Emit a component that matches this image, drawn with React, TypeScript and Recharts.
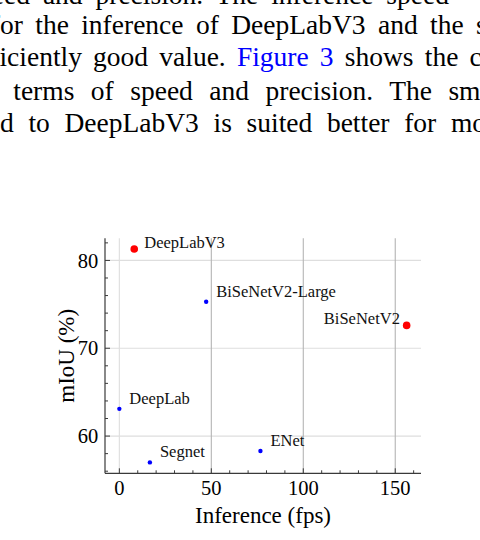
import { Label, ReferenceLine, Scatter, ScatterChart, XAxis, YAxis } from "recharts";

// models drawn in red (large markers)
const highlightNames = ["DeepLabV3", "BiSeNetV2"];
const highlightFps = [8.1, 156.2];
const highlightMiou = [81.3, 72.6];

// other models (small blue markers)
const otherNames = ["BiSeNetV2-Large", "DeepLab", "Segnet", "ENet"];
const otherFps = [47.2, 0, 16.6, 76.7];
const otherMiou = [75.3, 63.1, 57.0, 58.3];

const xMajorTicks = [0, 50, 100, 150];
const xMinorTicks = [10, 20, 30, 40, 60, 70, 80, 90, 110, 120, 130, 140, 160];
const yMajorTicks = [60, 70, 80];
const yMinorTicks = [56, 58, 62, 64, 66, 68, 72, 74, 76, 78, 82];

const xDomain = [-7.8, 164.0];
const yDomain = [55.76, 82.52];

// names whose label sits on the left of the marker
const leftLabelled = ["BiSeNetV2"];

const highlightPoints = highlightNames.map((name, i) => ({ name, x: highlightFps[i], y: highlightMiou[i] }));
const otherPoints = otherNames.map((name, i) => ({ name, x: otherFps[i], y: otherMiou[i] }));
const xAllTicks = [...xMajorTicks, ...xMinorTicks].sort((a, b) => a - b);
const yAllTicks = [...yMajorTicks, ...yMinorTicks].sort((a, b) => a - b);

const serif = "Liberation Serif";
const spine = "#3a3a3a";

// inward ticks: long for major values, short for minor ones
function XTick(props: any) {
  const { x, y, payload } = props;
  const major = xMajorTicks.includes(payload.value);
  return (
    <g>
      <line x1={x} x2={x} y1={y} y2={y - (major ? 5 : 3)} stroke={spine} />
      {major ? (
        <text x={x} y={y + 21.2} textAnchor="middle" fontFamily={serif} fontSize={20.5} fill="#000">
          {payload.value}
        </text>
      ) : null}
    </g>
  );
}

function YTick(props: any) {
  const { x, y, payload } = props;
  const major = yMajorTicks.includes(payload.value);
  return (
    <g>
      <line x1={x} x2={x + (major ? 5 : 3)} y1={y} y2={y} stroke={spine} />
      {major ? (
        <text x={x - 6.7} y={y + 7.1} textAnchor="end" fontFamily={serif} fontSize={20.5} fill="#000">
          {payload.value}
        </text>
      ) : null}
    </g>
  );
}

function makeShape(r: number, color: string, labelDy: number) {
  return (props: any) => {
    const { cx, cy, payload } = props;
    const left = leftLabelled.includes(payload.name);
    return (
      <g>
        <circle cx={cx} cy={cy} r={r} fill={color} />
        <text
          x={left ? cx - 6.7 : cx + 10}
          y={cy + labelDy}
          textAnchor={left ? "end" : "start"}
          fontFamily={serif}
          fontSize={16.5}
          fill="#111"
        >
          {payload.name}
        </text>
      </g>
    );
  };
}

function Paragraph() {
  const line = (x: number, y: number, ws: number, children: any) => (
    <text x={x} y={y} fontFamily={serif} fontSize={27.5} fill="#000" style={{ wordSpacing: `${ws}px` }}>
      {children}
    </text>
  );
  return (
    <svg width={480} height={140} style={{ position: "absolute", left: 0, top: 0 }}>
      {line(-32.6, 4.2, 6, "speed and precision. The inference speed")}
      {line(-9.2, 34.3, 5.5, "for the inference of DeepLabV3 and the system")}
      {line(
        -42.8,
        66.3,
        4.3,
        <>
          sufficiently good value. <tspan fill="#0000ff">Figure 3</tspan> shows the comparison
        </>
      )}
      {line(-24.6, 99.5, 9.6, "in terms of speed and precision. The smaller")}
      {line(-94.7, 131.7, 7.8, "compared to DeepLabV3 is suited better for mobile")}
    </svg>
  );
}

export default function App() {
  return (
    <div style={{ position: "absolute", left: 0, top: 0, width: 480, height: 540, overflow: "hidden", background: "#fff" }}>
      <Paragraph />
      <div style={{ position: "absolute", left: 0, top: 0 }}>
        <ScatterChart width={480} height={540} margin={{ top: 238.3, right: 59, bottom: 36.7, left: 65 }}>
          {yMajorTicks.map((v) => (
            <ReferenceLine key={`h${v}`} y={v} stroke="#dedede" strokeWidth={1.2} />
          ))}
          {xMajorTicks.map((v) => (
            <ReferenceLine key={`v${v}`} x={v} stroke={v === 0 ? "#dedede" : "#b4b4b4"} strokeWidth={1.1} />
          ))}
          <XAxis
            type="number"
            dataKey="x"
            domain={xDomain}
            ticks={xAllTicks}
            interval={0}
            height={30}
            axisLine={{ stroke: spine, strokeWidth: 1.2 }}
            tickSize={0}
            tickMargin={0}
            tickLine={false}
            tick={<XTick />}
          >
            <Label
              content={({ viewBox }: any) => (
                <text
                  x={viewBox.x + viewBox.width / 2}
                  y={viewBox.y + 49.4}
                  textAnchor="middle"
                  fontFamily={serif}
                  fontSize={23}
                  fill="#000"
                >
                  Inference (fps)
                </text>
              )}
            />
          </XAxis>
          <YAxis
            type="number"
            dataKey="y"
            domain={yDomain}
            ticks={yAllTicks}
            interval={0}
            width={40}
            axisLine={{ stroke: spine, strokeWidth: 1.2 }}
            tickSize={0}
            tickMargin={0}
            tickLine={false}
            tick={<YTick />}
          >
            <Label
              content={({ viewBox }: any) => {
                const lx = viewBox.x + viewBox.width - 31;
                const ly = viewBox.y + viewBox.height / 2;
                return (
                  <text
                    x={lx}
                    y={ly}
                    transform={`rotate(-90 ${lx} ${ly})`}
                    textAnchor="middle"
                    fontFamily={serif}
                    fontSize={23}
                    fill="#000"
                  >
                    mIoU (%)
                  </text>
                );
              }}
            />
          </YAxis>
          <Scatter data={otherPoints} fill="#0000ff" shape={makeShape(2.2, "#0000ff", -5)} isAnimationActive={false} />
          <Scatter data={highlightPoints} fill="#ff0000" shape={makeShape(3.8, "#ff0000", -1)} isAnimationActive={false} />
        </ScatterChart>
      </div>
    </div>
  );
}
